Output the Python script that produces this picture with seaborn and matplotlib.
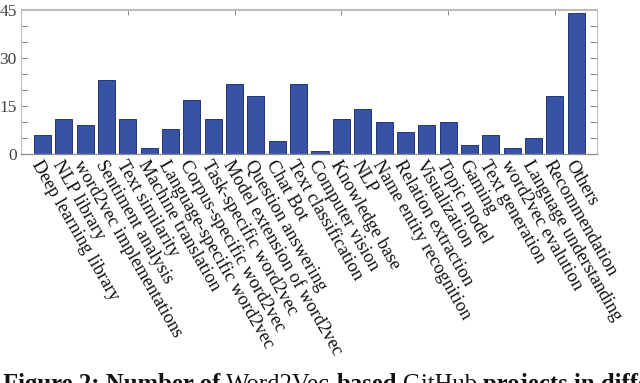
import matplotlib
matplotlib.use("Agg")
import matplotlib.pyplot as plt
import seaborn as sns
from matplotlib.ticker import MultipleLocator

categories = [
    "Deep learning library", "NLP library", "word2vec implementations",
    "Sentiment analysis", "Text similarity", "Machine translation",
    "Language-specific word2vec", "Corpus-specific word2vec",
    "Task-specific word2vec", "Model extension of word2vec",
    "Question answering", "Chat Bot", "Text classification",
    "Computer vision", "Knowledge base", "NLP", "Name entity recognition",
    "Relation extraction", "Visualization", "Topic model", "Gaming",
    "Text generation", "word2vec evalution", "Language understanding",
    "Recommendation", "Others",
]
values = [6, 11, 9, 23, 11, 2, 8, 17, 11, 22, 18, 4, 22, 1, 11, 14, 10, 7, 9,
          10, 3, 6, 2, 5, 18, 44]
y_ticks = [0, 15, 30, 45]

sns.set_style("white")
plt.rcParams["font.family"] = ["Liberation Serif", "DejaVu Serif"]

fig = plt.figure(figsize=(6.4, 3.83), dpi=100)
ax = fig.add_axes([21 / 640, 1 - 154.3 / 383, (597 - 21) / 640, (154.3 - 9.5) / 383])

sns.barplot(x=categories, y=values, color="#3953a4", saturation=1, width=0.8,
            edgecolor="#26357a", linewidth=0.7, ax=ax)

ax.set_xlim(-1.0, 25.97)
ax.set_ylim(0, 45)
ax.set_yticks(y_ticks)
ax.yaxis.set_minor_locator(MultipleLocator(5))
ax.set_xlabel("")
ax.set_ylabel("")

spine_c = "#bdbdbd"
for s in ["top", "right", "left"]:
    ax.spines[s].set_color(spine_c)
    ax.spines[s].set_linewidth(0.8)
ax.spines["bottom"].set_color("#8a8a8a")
ax.spines["bottom"].set_linewidth(0.9)

ax.tick_params(axis="y", which="both", direction="in", left=True, right=True,
               color="#8a8a8a", width=0.7, labelsize=12.5, labelcolor="#444444", pad=3)
ax.tick_params(axis="y", which="major", length=5)
ax.tick_params(axis="y", which="minor", length=5)
ax.tick_params(axis="x", which="both", bottom=False, length=0, pad=2)

ax.set_xticks(range(len(categories)))
ax.set_xticklabels(categories, rotation=-60, ha="left", va="top",
                   rotation_mode="anchor", fontsize=13.3, color="#111111")

sec = ax.secondary_xaxis("top")
sec.set_xticks([4, 9, 14, 19, 24])
sec.tick_params(direction="in", length=4, color="#8a8a8a", width=0.7, labeltop=False)
sec.spines["top"].set_color(spine_c)
sec.spines["top"].set_linewidth(0.8)

# caption (cut off at bottom edge as in reference), laid out piece by piece
cy = (383 - 391) / 383
pieces = [
    ("Figure 2: Number of", "bold"),
    ("Word2Vec", "normal"),
    ("based", "bold"),
    ("GitHub", "normal"),
    ("projects in different categories", "bold"),
]
renderer = fig.canvas.get_renderer()
xpx = 3.0
for t, w in pieces:
    txt = fig.text(xpx / 640, cy, t, fontsize=17.8, fontweight=w, va="baseline",
                   ha="left", color="#111111")
    bb = txt.get_window_extent(renderer=renderer)
    xpx += bb.width + 6

fig.savefig("out.png", dpi=100)
